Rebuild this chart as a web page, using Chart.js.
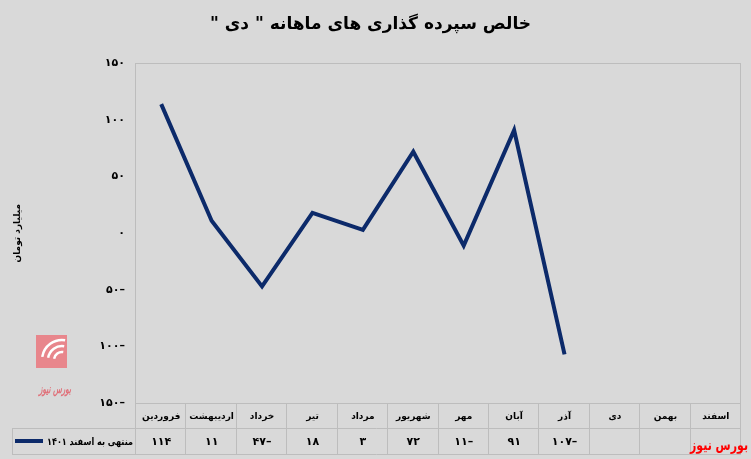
<!DOCTYPE html>
<html><head><meta charset="utf-8">
<script src="https://cdn.jsdelivr.net/npm/chart.js@4.4.0/dist/chart.umd.min.js"></script>
<style>html,body{margin:0;padding:0;background:#d9d9d9;overflow:hidden} canvas{display:block;direction:rtl}</style>
</head><body>
<canvas id="c" width="751" height="459"></canvas>
<script>
const months = ['فروردین','اردیبهشت','خرداد','تیر','مرداد','شهریور','مهر','آبان','آذر','دی','بهمن','اسفند'];
const seriesLabel = 'منتهی به اسفند ۱۴۰۱';
const values = [114, 11, -47, 18, 3, 72, -11, 91, -107, null, null, null];
const yMin = -150, yMax = 150, yStep = 50;
const titleText = 'خالص سپرده گذاری های ماهانه " دی "';
const yTitle = 'میلیارد تومان';
const brand = 'بورس نیوز';

const FONT = "'DejaVu Sans', sans-serif";
const LINE = '#0c2a6a';
const GRID = '#bdbdbd';

function fa(n){
  const s = String(Math.abs(n)).replace(/\d/g, d => '۰۱۲۳۴۵۶۷۸۹'[d]);
  return n < 0 ? '–' + s : s;
}

const tablePlugin = {
  id: 'tablePlugin',
  beforeDraw(chart){
    const ctx = chart.ctx;
    ctx.save();
    ctx.fillStyle = '#d9d9d9';
    ctx.fillRect(0,0,chart.width,chart.height);
    ctx.restore();
  },
  afterDraw(chart){
    const ctx = chart.ctx;
    const a = chart.chartArea;
    const xs = chart.scales.x;
    const n = months.length;
    const colW = (a.right - a.left) / n;
    const rowTop = a.bottom, rowMid = a.bottom + 25, rowBot = a.bottom + 51;
    const legL = 12;
    ctx.save();
    ctx.strokeStyle = GRID;
    ctx.lineWidth = 1;
    ctx.strokeRect(Math.round(a.left)-0.5, Math.round(a.top)+0.5, Math.round(a.right-a.left), Math.round(a.bottom-a.top));
    ctx.beginPath();
    ctx.moveTo(legL, Math.round(rowMid)+0.5); ctx.lineTo(a.right, Math.round(rowMid)+0.5);
    ctx.moveTo(legL, Math.round(rowBot)+0.5); ctx.lineTo(a.right, Math.round(rowBot)+0.5);
    for (let i = 0; i <= n; i++){
      const x = Math.round(a.left + i*colW) - 0.5;
      ctx.moveTo(x, rowTop); ctx.lineTo(x, rowBot+1);
    }
    ctx.moveTo(legL+0.5, rowMid); ctx.lineTo(legL+0.5, rowBot+1);
    ctx.stroke();
    // values row
    ctx.fillStyle = '#000';
    ctx.font = 'bold 11px ' + FONT;
    ctx.textAlign = 'center';
    ctx.textBaseline = 'middle';
    values.forEach((v, i) => {
      if (v === null) return;
      ctx.fillText(fa(v), xs.getPixelForValue(i), (rowMid+rowBot)/2 + 1);
    });
    // legend cell
    const ly = (rowMid+rowBot)/2;
    ctx.strokeStyle = LINE;
    ctx.lineWidth = 4;
    ctx.beginPath(); ctx.moveTo(15, ly); ctx.lineTo(43, ly); ctx.stroke();
    ctx.font = 'bold 10px ' + FONT;
    ctx.textAlign = 'right';
    ctx.fillText(seriesLabel, a.left - 3, ly + 1, 86);
    // logo
    ctx.fillStyle = '#e8868c';
    ctx.fillRect(36, 335, 31, 33);
    ctx.strokeStyle = '#ffffff';
    ctx.lineWidth = 2.5;
    for (let r = 8; r <= 20; r += 6){
      ctx.beginPath();
      ctx.arc(62, 360, r, Math.PI*1.05, Math.PI*1.55);
      ctx.stroke();
    }
    ctx.fillStyle = '#e07079';
    ctx.font = 'italic bold 12px ' + FONT;
    ctx.textAlign = 'center';
    ctx.fillText(brand, 55, 390, 32);
    // brand bottom-right
    ctx.fillStyle = '#ff0000';
    ctx.font = 'bold 15px ' + FONT;
    ctx.textAlign = 'right';
    ctx.fillText(brand, 748, 446, 58);
    ctx.restore();
  }
};

new Chart(document.getElementById('c'), {
  type: 'line',
  data: {
    labels: months,
    datasets: [{
      label: seriesLabel,
      data: values,
      borderColor: LINE,
      borderWidth: 4,
      pointRadius: 0,
      tension: 0,
      spanGaps: false
    }]
  },
  options: {
    responsive: false,
    animation: false,
    devicePixelRatio: 1,
    layout: { padding: { left: 0, right: 10, top: 0, bottom: 0 } },
    plugins: {
      legend: { display: false },
      tooltip: { enabled: false },
      title: {
        display: true,
        text: titleText,
        color: '#000',
        font: { family: FONT, size: 17, weight: 'bold', lineHeight: 1.2 },
        padding: { top: 14, bottom: 29 }
      }
    },
    scales: {
      x: {
        type: 'category',
        offset: true,
        grid: { display: false, drawTicks: false },
        border: { display: false },
        ticks: {
          color: '#000',
          font: { family: FONT, size: 9, weight: 'bold' },
          padding: 8,
          maxRotation: 0,
          autoSkip: false
        },
        afterFit(s){ s.height = 56; }
      },
      y: {
        min: yMin, max: yMax,
        grid: { display: false, drawTicks: false },
        border: { display: false },
        ticks: {
          stepSize: yStep,
          color: '#000',
          font: { family: FONT, size: 11, weight: 'bold' },
          padding: 11,
          callback: v => fa(v)
        },
        title: {
          display: true,
          text: yTitle,
          color: '#000',
          font: { family: FONT, size: 9, weight: 'bold', lineHeight: 1.2 },
          padding: { top: 12, bottom: 0 }
        },
        afterFit(s){ s.width = 136; }
      }
    }
  },
  plugins: [tablePlugin]
});
</script>
</body></html>
